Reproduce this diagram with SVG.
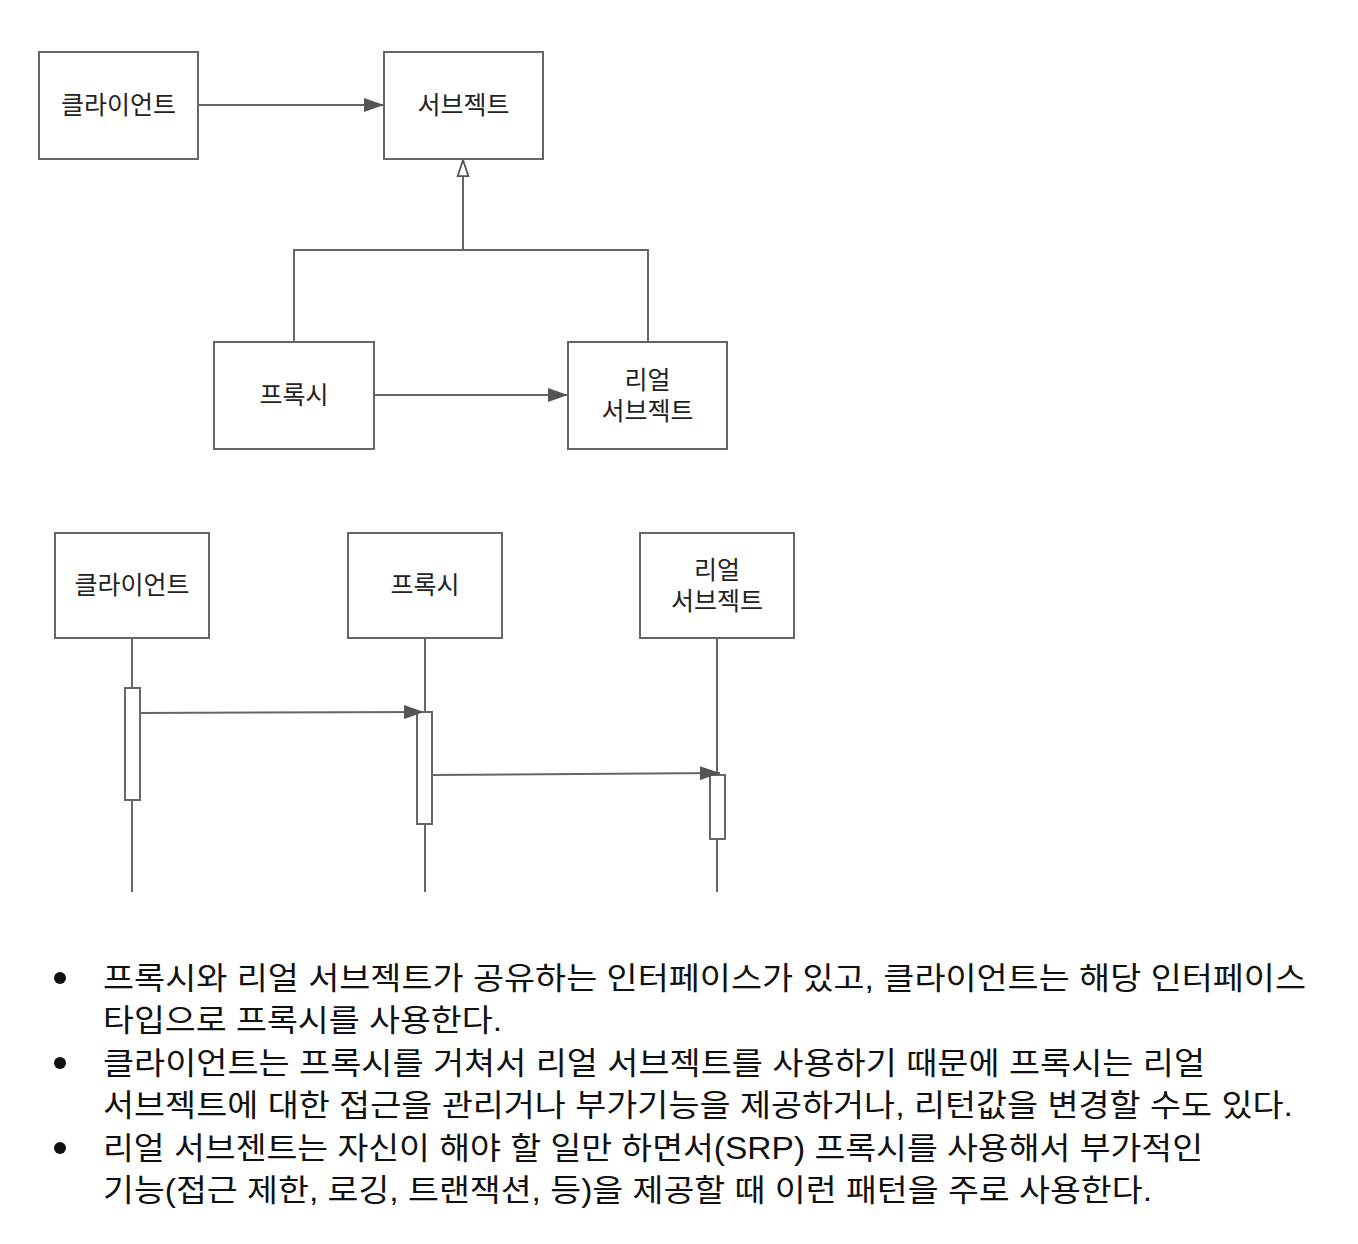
<svg xmlns="http://www.w3.org/2000/svg" width="1358" height="1244" viewBox="0 0 1358 1244">
<style>
.box{fill:#fff;stroke:#666;stroke-width:2}
.act{fill:#fff;stroke:#666;stroke-width:2}
.ln{fill:none;stroke:#666;stroke-width:2}
.lbl{font-family:"Liberation Sans","Noto Sans CJK KR",sans-serif;font-size:25px;fill:#222;text-anchor:middle}
.body{font-family:"Liberation Sans","Noto Sans CJK KR",sans-serif;font-size:31px;fill:#111}
</style>
<defs>
<marker id="arr" viewBox="0 0 20 14" refX="20" refY="7" markerWidth="20" markerHeight="14" markerUnits="userSpaceOnUse" orient="auto">
<path d="M0,0 L20,7 L0,14 z" fill="#555"/>
</marker>
<marker id="hollow" viewBox="0 0 20 14" refX="19" refY="7" markerWidth="18" markerHeight="14" markerUnits="userSpaceOnUse" orient="auto">
<path d="M1,1 L19,7 L1,13 z" fill="#fff" stroke="#555" stroke-width="2"/>
</marker>
</defs>
<rect width="1358" height="1244" fill="#fff"/>
<g id="connectors">
<line class="ln" x1="198" y1="105" x2="384" y2="105" marker-end="url(#arr)"/>
<polyline class="ln" points="294,342 294,250 648,250 648,342"/>
<line class="ln" x1="463" y1="250" x2="463" y2="160" marker-end="url(#hollow)"/>
<line class="ln" x1="374" y1="395" x2="568" y2="395" marker-end="url(#arr)"/>
<line class="ln" x1="132" y1="638" x2="132" y2="892"/>
<line class="ln" x1="425" y1="638" x2="425" y2="892"/>
<line class="ln" x1="717" y1="638" x2="717" y2="892"/>
</g>
<g id="n-client"><rect class="box" x="39" y="52" width="159" height="107"/><text class="lbl" x="118.5" y="114">클라이언트</text></g>
<g id="n-subject"><rect class="box" x="384" y="52" width="159" height="107"/><text class="lbl" x="463.5" y="114">서브젝트</text></g>
<g id="n-proxy"><rect class="box" x="214" y="342" width="160" height="107"/><text class="lbl" x="294" y="404">프록시</text></g>
<g id="n-real"><rect class="box" x="568" y="342" width="159" height="107"/><text class="lbl" x="647.5" y="389">리얼</text><text class="lbl" x="647.5" y="420">서브젝트</text></g>
<g id="s-client"><rect class="box" x="55" y="533" width="154" height="105"/><text class="lbl" x="132" y="594">클라이언트</text></g>
<g id="s-proxy"><rect class="box" x="348" y="533" width="154" height="105"/><text class="lbl" x="425" y="594">프록시</text></g>
<g id="s-real"><rect class="box" x="640" y="533" width="154" height="105"/><text class="lbl" x="717" y="579">리얼</text><text class="lbl" x="717" y="610">서브젝트</text></g>
<g id="activations">
<rect class="act" x="125" y="688" width="15" height="112"/>
<rect class="act" x="417" y="712" width="15" height="112"/>
<rect class="act" x="710" y="775" width="15" height="64"/>
</g>
<g id="messages">
<line class="ln" x1="140" y1="713" x2="424" y2="712" marker-end="url(#arr)"/>
<line class="ln" x1="432" y1="775" x2="720" y2="773" marker-end="url(#arr)"/>
</g>
<g id="notes">
<circle cx="60" cy="978" r="6" fill="#111"/>
<circle cx="60" cy="1063" r="6" fill="#111"/>
<circle cx="60" cy="1148" r="6" fill="#111"/>
<text class="body" x="103" y="989" textLength="1203" lengthAdjust="spacingAndGlyphs">프록시와 리얼 서브젝트가 공유하는 인터페이스가 있고, 클라이언트는 해당 인터페이스</text>
<text class="body" x="103" y="1031" textLength="399" lengthAdjust="spacingAndGlyphs">타입으로 프록시를 사용한다.</text>
<text class="body" x="103" y="1074" textLength="1102" lengthAdjust="spacingAndGlyphs">클라이언트는 프록시를 거쳐서 리얼 서브젝트를 사용하기 때문에 프록시는 리얼</text>
<text class="body" x="103" y="1116" textLength="1190" lengthAdjust="spacingAndGlyphs">서브젝트에 대한 접근을 관리거나 부가기능을 제공하거나, 리턴값을 변경할 수도 있다.</text>
<text class="body" x="103" y="1159" textLength="1100" lengthAdjust="spacingAndGlyphs">리얼 서브젠트는 자신이 해야 할 일만 하면서(SRP) 프록시를 사용해서 부가적인</text>
<text class="body" x="103" y="1201" textLength="1049" lengthAdjust="spacingAndGlyphs">기능(접근 제한, 로깅, 트랜잭션, 등)을 제공할 때 이런 패턴을 주로 사용한다.</text>
</g>
</svg>
